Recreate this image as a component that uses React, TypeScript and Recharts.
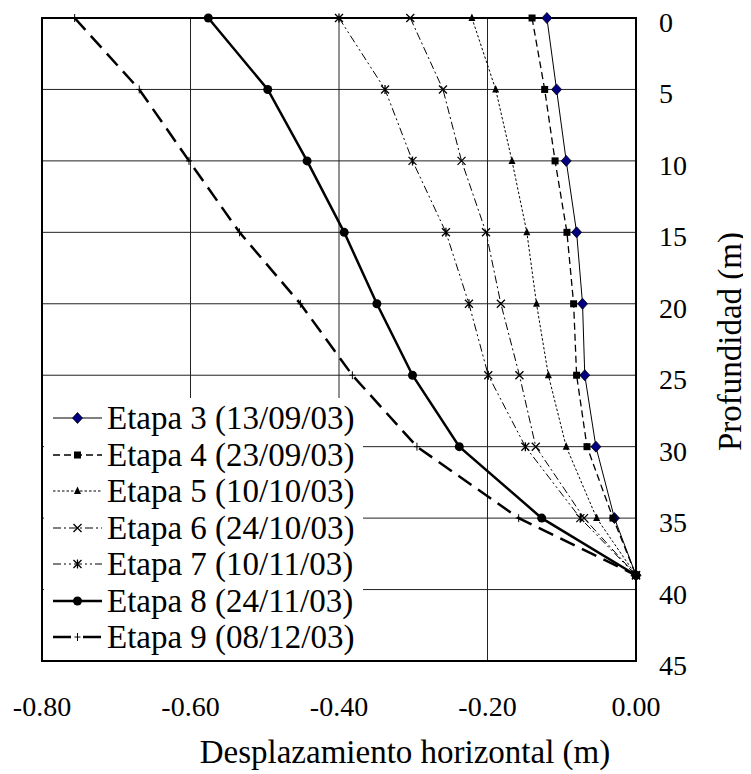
import React from 'react';
import {
  ScatterChart,
  Scatter,
  XAxis,
  YAxis,
  CartesianGrid,
  ReferenceArea,
  Legend,
} from 'recharts';

// profundidad (m) de cada lectura del inclinómetro
const depths = [0, 5, 10, 15, 20, 25, 30, 35, 39];

// desplazamiento horizontal (m) por etapa
const etapa3 = [-0.12, -0.107, -0.094, -0.08, -0.072, -0.069, -0.054, -0.029, 0];
const etapa4 = [-0.14, -0.123, -0.109, -0.093, -0.084, -0.08, -0.066, -0.031, 0];
const etapa5 = [-0.221, -0.189, -0.167, -0.147, -0.134, -0.118, -0.094, -0.053, 0];
const etapa6 = [-0.304, -0.26, -0.235, -0.202, -0.182, -0.157, -0.135, -0.07, 0];
const etapa7 = [-0.4, -0.338, -0.301, -0.256, -0.225, -0.199, -0.149, -0.075, 0];
const etapa8 = [-0.576, -0.496, -0.443, -0.393, -0.349, -0.301, -0.238, -0.127, 0];
const etapa9 = [-0.756, -0.669, -0.602, -0.534, -0.452, -0.382, -0.295, -0.158, 0];

const stageNames = [
  'Etapa 3 (13/09/03)',
  'Etapa 4 (23/09/03)',
  'Etapa 5 (10/10/03)',
  'Etapa 6 (24/10/03)',
  'Etapa 7 (10/11/03)',
  'Etapa 8 (24/11/03)',
  'Etapa 9 (08/12/03)',
];

const xTicks = [-0.8, -0.6, -0.4, -0.2, 0];
const yTicks = [0, 5, 10, 15, 20, 25, 30, 35, 40, 45];

const FONT = '"Liberation Serif", "Times New Roman", serif';

type MarkerKind = 'diamond' | 'square' | 'triangle' | 'cross' | 'star' | 'circle' | 'plus';

interface SeriesStyle {
  name: string;
  values: number[];
  marker: MarkerKind;
  width: number;
  dash?: string;
  legendDash?: string;
}

const series: SeriesStyle[] = [
  { name: stageNames[0], values: etapa3, marker: 'diamond', width: 1 },
  { name: stageNames[1], values: etapa4, marker: 'square', width: 1.3, dash: '7 4', legendDash: '7 4' },
  { name: stageNames[2], values: etapa5, marker: 'triangle', width: 1, dash: '2.5 2', legendDash: '2.5 2' },
  { name: stageNames[3], values: etapa6, marker: 'cross', width: 1, dash: '8 3 2 3', legendDash: '8 3 2 3' },
  { name: stageNames[4], values: etapa7, marker: 'star', width: 1, dash: '8 3 2 3 2 3', legendDash: '8 3 2 3 2 3' },
  { name: stageNames[5], values: etapa8, marker: 'circle', width: 2.5 },
  { name: stageNames[6], values: etapa9, marker: 'plus', width: 2.5, dash: '16 8', legendDash: '18 12' },
];

const Marker = ({ kind, cx, cy }: { kind: MarkerKind; cx: number; cy: number }) => {
  if (cx == null || cy == null) return null;
  switch (kind) {
    case 'diamond':
      return (
        <polygon
          points={`${cx},${cy - 5.5} ${cx + 5},${cy} ${cx},${cy + 5.5} ${cx - 5},${cy}`}
          fill="#000080"
          stroke="#000"
          strokeWidth={0.8}
        />
      );
    case 'square':
      return <rect x={cx - 3.5} y={cy - 3.5} width={7} height={7} fill="#000" />;
    case 'triangle':
      return <polygon points={`${cx},${cy - 4.5} ${cx + 3.5},${cy + 3} ${cx - 3.5},${cy + 3}`} fill="#000" />;
    case 'cross':
      return (
        <path
          d={`M${cx - 4},${cy - 4}L${cx + 4},${cy + 4}M${cx + 4},${cy - 4}L${cx - 4},${cy + 4}`}
          stroke="#000"
          strokeWidth={1.3}
        />
      );
    case 'star':
      return (
        <path
          d={`M${cx - 4},${cy - 4}L${cx + 4},${cy + 4}M${cx + 4},${cy - 4}L${cx - 4},${cy + 4}M${cx},${cy - 4.5}L${cx},${cy + 4.5}`}
          stroke="#000"
          strokeWidth={1.3}
        />
      );
    case 'circle':
      return <circle cx={cx} cy={cy} r={4.5} fill="#000" />;
    case 'plus':
      return (
        <path
          d={`M${cx - 3},${cy}L${cx + 3},${cy}M${cx},${cy - 4}L${cx},${cy + 4}`}
          stroke="#000"
          strokeWidth={1}
        />
      );
    default:
      return null;
  }
};

const XTick = (props: any) => {
  const { x, y, payload } = props;
  return (
    <text x={x} y={y + 55} textAnchor="middle" fontSize={28} fontFamily={FONT} fill="#000">
      {Number(payload.value).toFixed(2)}
    </text>
  );
};

const YTick = (props: any) => {
  const { x, y, payload } = props;
  return (
    <text x={x + 23} y={y + 14} textAnchor="start" fontSize={28} fontFamily={FONT} fill="#000">
      {payload.value}
    </text>
  );
};

const XTitle = (props: any) => {
  const vb = props.viewBox || { x: 34, y: 653, width: 594, height: 113 };
  return (
    <text x={vb.x + vb.width / 2 + 66} y={vb.y + 102} textAnchor="middle" fontSize={33} fontFamily={FONT} fill="#000">
      Desplazamiento horizontal (m)
    </text>
  );
};

const YTitle = (props: any) => {
  const vb = props.viewBox || { x: 628, y: 10, width: 115, height: 643 };
  const cx = vb.x + 105;
  const cy = vb.y + vb.height / 2 + 2;
  return (
    <text
      x={cx}
      y={cy}
      transform={`rotate(-90 ${cx} ${cy})`}
      textAnchor="middle"
      fontSize={33}
      fontFamily={FONT}
      fill="#000"
    >
      Profundidad (m)
    </text>
  );
};

const renderLegend = () => (
  <div
    style={{
      background: '#fff',
      width: 319,
      height: 262,
      paddingTop: 2,
      boxSizing: 'border-box',
      fontFamily: FONT,
      fontSize: 33,
      color: '#000',
    }}
  >
    {series.map((s) => (
      <div key={s.name} style={{ display: 'flex', alignItems: 'center', height: 36.5, lineHeight: '36.5px' }}>
        <svg width={49} height={20} style={{ marginLeft: 9, marginRight: 5, flexShrink: 0 }}>
          <line x1={0} y1={10} x2={49} y2={10} stroke="#000" strokeWidth={s.width} strokeDasharray={s.legendDash} />
          <Marker kind={s.marker} cx={24.5} cy={10} />
        </svg>
        <span style={{ whiteSpace: 'nowrap' }}>{s.name}</span>
      </div>
    ))}
  </div>
);

export default function App() {
  return (
    <div style={{ width: 743, height: 766, background: '#fff', fontFamily: FONT }}>
      <ScatterChart width={743} height={766} margin={{ top: 10, right: 0, bottom: 0, left: 34 }}>
        <CartesianGrid stroke="#222" strokeWidth={1} />
        <XAxis
          type="number"
          dataKey="x"
          domain={[-0.8, 0]}
          ticks={xTicks}
          orientation="bottom"
          height={113}
          axisLine={false}
          tickLine={false}
          tickSize={0}
          tickMargin={0}
          tick={<XTick />}
          label={{ content: (p: any) => <XTitle {...p} /> }}
        />
        <YAxis
          type="number"
          dataKey="y"
          domain={[0, 45]}
          ticks={yTicks}
          reversed
          orientation="right"
          width={115}
          axisLine={false}
          tickLine={false}
          tickSize={0}
          tickMargin={0}
          tick={<YTick />}
          label={{ content: (p: any) => <YTitle {...p} /> }}
        />
        <ReferenceArea x1={-0.8} x2={0} y1={0} y2={45} fill="none" stroke="#000" strokeWidth={2} />
        {series.map((s) => (
          <Scatter
            key={s.name}
            name={s.name}
            data={depths.map((d, i) => ({ x: s.values[i], y: d }))}
            fill="#000"
            line={{ stroke: '#000', strokeWidth: s.width, strokeDasharray: s.dash }}
            lineType="joint"
            shape={(p: any) => <Marker kind={s.marker} cx={p.cx} cy={p.cy} />}
            isAnimationActive={false}
          />
        ))}
        <Legend
          layout="vertical"
          align="center"
          verticalAlign="middle"
          content={renderLegend}
          wrapperStyle={{ left: 36, top: 390, width: 319, height: 262 }}
        />
      </ScatterChart>
    </div>
  );
}
